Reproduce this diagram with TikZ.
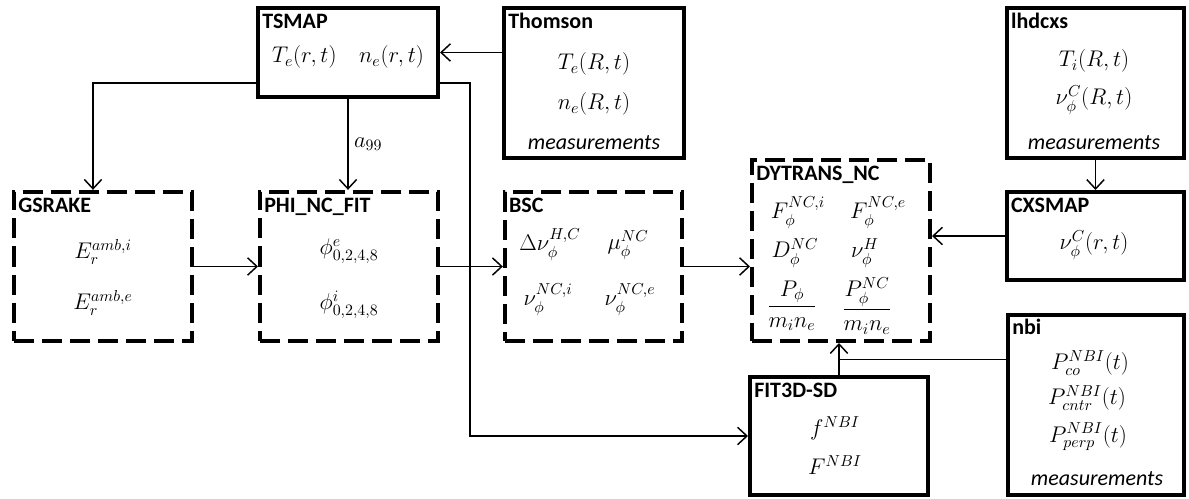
\RequirePackage{fix-cm}
\documentclass[tikz,border=0pt]{standalone}
\usepackage{amsmath}
\usepackage{fontspec}
\setmainfont{Carlito}
\usetikzlibrary{arrows.meta,positioning}

\begin{document}
\begin{tikzpicture}[x=0.75pt, y=-0.75pt,
  box/.style={draw, line width=3pt, inner sep=0pt},
  dbox/.style={box, dash pattern=on 15pt off 6pt},
  title/.style={anchor=base west, inner sep=0pt, font=\bfseries\fontsize{16.5}{19}\selectfont},
  txt/.style={inner sep=0pt, font=\fontsize{17}{20}\selectfont},
  meas/.style={inner sep=0pt, font=\itshape\fontsize{16.5}{19}\selectfont},
  arr/.style={-{Straight Barb[length=7pt,width=13pt]}, line width=1.1pt},
  lnk/.style={line width=1.1pt}
]
\useasboundingbox (0,0) rectangle (1189,499);

\node[box, minimum width=135pt, minimum height=66.75pt] (tsmap) at (348,52.5) {};
\node[title] (tsmapt) at ([shift={(4.5pt,-17pt)}]tsmap.north west) {TSMAP};
\node[txt] (tsmapv) at (348,57) {$T_e(r,t)\quad n_e(r,t)$};

\node[box, minimum width=135pt, minimum height=112.5pt] (thom) at (594,83) {};
\node[title] (thomt) at ([shift={(4.5pt,-17pt)}]thom.north west) {Thomson};
\node[txt] (thomte) at (594,64) {$T_e(R,t)$};
\node[txt] (thomne) at (594,104) {$n_e(R,t)$};
\node[meas] (thomm) at (594,143) {measurements};

\node[dbox, minimum width=133.5pt, minimum height=112pt] (gsrake) at (103,266.5) {};
\node[title] (gsraket) at ([shift={(4.5pt,-17pt)}]gsrake.north west) {GSRAKE};
\node[txt] (erai) at (103,252) {$E_r^{amb,i}$};
\node[txt] (erae) at (103,303) {$E_r^{amb,e}$};

\node[dbox, minimum width=133.5pt, minimum height=112pt] (phi) at (349,266.5) {};
\node[title] (phit) at ([shift={(4.5pt,-17pt)}]phi.north west) {PHI\_NC\_FIT};
\node[txt] (phie) at (349,251) {$\phi^e_{0,2,4,8}$};
\node[txt] (phii) at (349,305) {$\phi^i_{0,2,4,8}$};

\node[dbox, minimum width=133pt, minimum height=112pt] (bsc) at (593.5,266.5) {};
\node[title] (bsct) at ([shift={(4.5pt,-17pt)}]bsc.north west) {BSC};
\node[txt] (dnu) at (550,245) {$\Delta\nu_\phi^{H,C}$};
\node[txt] (mu) at (628,245) {$\mu_\phi^{NC}$};
\node[txt] (nui) at (548,300) {$\nu_\phi^{NC,i}$};
\node[txt] (nue) at (630,300) {$\nu_\phi^{NC,e}$};

\node[dbox, minimum width=133.5pt, minimum height=135.75pt] (dyt) at (841,250.5) {};
\node[title] (dytt) at ([shift={(4.5pt,-17pt)}]dyt.north west) {DYTRANS\_NC};
\node[txt] (fi) at (798,213) {$F_\phi^{NC,i}$};
\node[txt] (fe) at (878,213) {$F_\phi^{NC,e}$};
\node[txt] (dnc) at (795,253) {$D_\phi^{NC}$};
\node[txt] (nuh) at (865,253) {$\nu_\phi^{H}$};
\node[txt] (pfr) at (792,306) {$\dfrac{P_\phi}{m_i n_e}$};
\node[txt] (pncfr) at (867,306) {$\dfrac{P_\phi^{NC}}{m_i n_e}$};

\node[box, minimum width=133pt, minimum height=112.5pt] (lhd) at (1095.5,83) {};
\node[title] (lhdt) at ([shift={(4.5pt,-17pt)}]lhd.north west) {lhdcxs};
\node[txt] (lhdti) at (1094,61) {$T_i(R,t)$};
\node[txt] (lhdnu) at (1094,100) {$\nu_\phi^C(R,t)$};
\node[meas] (lhdm) at (1094,143) {measurements};

\node[box, minimum width=133pt, minimum height=66pt] (cxs) at (1095.5,236) {};
\node[title] (cxst) at ([shift={(4.5pt,-17pt)}]cxs.north west) {CXSMAP};
\node[txt] (cxsnu) at (1094,245) {$\nu_\phi^C(r,t)$};

\node[box, minimum width=132pt, minimum height=135pt] (nbi) at (1096,405) {};
\node[title] (nbit) at ([shift={(4.5pt,-16pt)}]nbi.north west) {nbi};
\node[txt] (pco) at (1090,363) {$P_{co}^{NBI}(t)$};
\node[txt] (pcntr) at (1087,398) {$P_{cntr}^{NBI}(t)$};
\node[txt] (pperp) at (1088,437) {$P_{perp}^{NBI}(t)$};
\node[meas] (nbim) at (1097,479) {measurements};

\node[box, minimum width=133.5pt, minimum height=88.5pt] (fit) at (839,436) {};
\node[title] (fitt) at ([shift={(4.5pt,-16.5pt)}]fit.north west) {FIT3D-SD};
\node[txt] (fnbi) at (835,428) {$f^{NBI}$};
\node[txt] (Fnbi) at (835,465) {$F^{NBI}$};

\draw[arr] (tsmap.east -| thom.west) -- (tsmap.east);
\draw[arr] ([yshift=12pt]tsmap.south west) -| ([xshift=-7.5pt]gsrake.north);
\draw[arr] (tsmap.south) -- node[right, inner sep=4pt, font=\fontsize{17}{20}\selectfont] (a99) {$a_{99}$} (tsmap.south |- phi.north);
\draw[arr] ([yshift=12pt]tsmap.south east) -- ++(22.5pt,0) |- (fit.west);
\draw[arr] (gsrake.east) -- (phi.west);
\draw[arr] (phi.east) -- (bsc.west);
\draw[arr] (bsc.east) -- (bsc.east -| dyt.west);
\draw[arr] (lhd.south) -- (cxs.north);
\draw[arr] (cxs.west) -- (cxs.west -| dyt.east);
\draw[arr] (fit.north) -- (fit.north |- dyt.south);
\coordinate (nbiin) at ([yshift=-35pt]nbi.north west);
\draw[lnk] (nbiin) -- (nbiin -| fit.north);
\end{tikzpicture}
\end{document}
